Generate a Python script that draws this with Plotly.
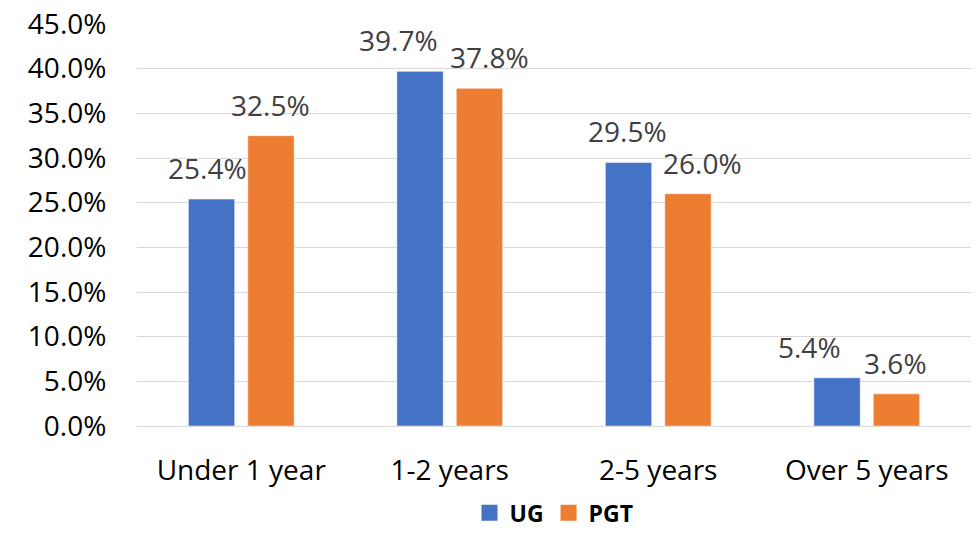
import plotly.graph_objects as go

categories = ["Under 1 year", "1-2 years", "2-5 years", "Over 5 years"]
ug_values = [25.4, 39.7, 29.5, 5.4]
pgt_values = [32.5, 37.8, 26.0, 3.6]
tick_vals = [0, 5, 10, 15, 20, 25, 30, 35, 40, 45]
tick_text = ["0.0%", "5.0%", "10.0%", "15.0%", "20.0%", "25.0%", "30.0%", "35.0%", "40.0%", "45.0%"]

# horizontal nudges of the data labels (style only, in px)
ug_label_shift = [-34, -51, -31, -57]
pgt_label_shift = [29, 40, 44, 29]

FONT = "Open Sans"
FS = 28
UG_COLOR = "#4472C4"
PGT_COLOR = "#ED7D31"

fig = go.Figure()
fig.add_trace(go.Bar(
    x=categories, y=ug_values, name="UG", showlegend=False,
    marker=dict(color=UG_COLOR, line=dict(color="rgba(255,255,255,0.5)", width=1)),
))
fig.add_trace(go.Bar(
    x=categories, y=pgt_values, name="PGT", showlegend=False,
    marker=dict(color=PGT_COLOR, line=dict(color="rgba(255,255,255,0.5)", width=1)),
))
# legend entries with square markers
fig.add_trace(go.Scatter(x=[None], y=[None], mode="markers", name="<b>UG</b>",
                         marker=dict(symbol="square", size=17, color=UG_COLOR)))
fig.add_trace(go.Scatter(x=[None], y=[None], mode="markers", name="<b>PGT</b>",
                         marker=dict(symbol="square", size=17, color=PGT_COLOR)))

for vals, shifts in ((ug_values, ug_label_shift), (pgt_values, pgt_label_shift)):
    for cat, v, s in zip(categories, vals, shifts):
        fig.add_annotation(x=cat, y=v, text=f"{v:.1f}%", showarrow=False,
                           xanchor="center", yanchor="bottom", xshift=s, yshift=10,
                           font=dict(size=FS, color="#404040", family=FONT))

fig.update_layout(
    width=963, height=522,
    margin=dict(l=129, r=0, t=16, b=104, autoexpand=False),
    paper_bgcolor="white", plot_bgcolor="white",
    barmode="group", bargap=0.43, bargroupgap=0.22,
    font=dict(family=FONT, size=FS, color="black"),
    showlegend=True,
    legend=dict(orientation="h", x=0.5, xanchor="center", y=-0.216, yanchor="middle",
                font=dict(size=23, color="black", family=FONT),
                traceorder="normal", itemclick=False),
)
fig.update_yaxes(range=[0, 45], tickvals=tick_vals, ticktext=tick_text,
                 showgrid=True, gridcolor="#D9D9D9", gridwidth=1.3, zeroline=False,
                 showline=False, ticks="outside", ticklen=24, tickcolor="rgba(0,0,0,0)",
                 ticklabeloverflow="allow",
                 tickfont=dict(size=FS, color="black"))
fig.update_xaxes(showline=True, linecolor="#D9D9D9", linewidth=1.3, ticks="outside",
                 ticklen=19, tickcolor="rgba(0,0,0,0)",
                 tickfont=dict(size=FS, color="black"))

fig.write_html("out.html")
